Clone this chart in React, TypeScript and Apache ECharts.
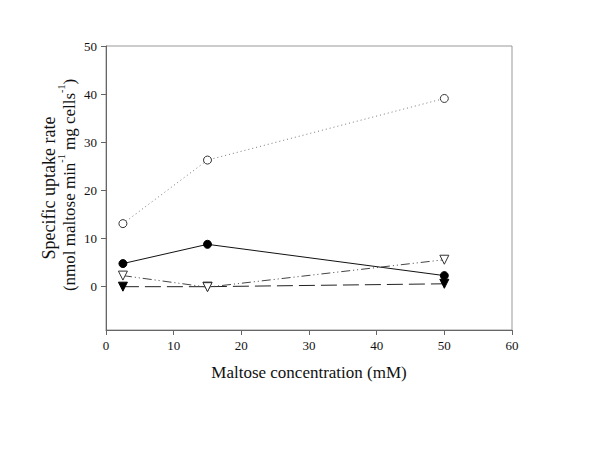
import React, { useEffect, useRef } from "react";
import * as echarts from "echarts";

const xValues = [2.5, 15, 50];
const filledCircles = [4.8, 8.8, 2.3];
const openCircles = [13.1, 26.3, 39.1];
const openTriangles = [2.3, -0.1, 5.6];
const filledTriangles = [0.0, 0.0, 0.6];
const xTicks = [0, 10, 20, 30, 40, 50, 60];
const yTicks = [0, 10, 20, 30, 40, 50];

const font = "'Liberation Serif', 'Times New Roman', serif";

function pairs(ys: number[]) {
  return xValues.map((x, i) => [x, ys[i]]);
}

export default function App() {
  const ref = useRef<HTMLDivElement>(null);
  useEffect(() => {
    if (!ref.current) return;
    const chart = echarts.init(ref.current, null, { renderer: "svg" });
    const axisLine = { show: true, onZero: false, lineStyle: { color: "#666", width: 1 } };
    const tick = { show: true, inside: false, length: 5, lineStyle: { color: "#666" } };
    chart.setOption({
      animation: false,
      backgroundColor: "#fff",
      grid: { left: 106, top: 46, right: 88, bottom: 120, show: true, borderColor: "#999", borderWidth: 1 },
      xAxis: {
        type: "value",
        min: 0,
        max: 60,
        interval: 10,
        axisLine,
        splitLine: { show: false },
        axisLabel: { color: "#111", fontFamily: font, fontSize: 13, margin: 9, customValues: xTicks },
        axisTick: { ...tick, customValues: xTicks },
        name: "Maltose concentration (mM)",
        nameLocation: "middle",
        nameGap: 34,
        nameTextStyle: { color: "#111", fontFamily: font, fontSize: 17 },
      },
      yAxis: {
        type: "value",
        min: -9,
        max: 50,
        axisLine,
        splitLine: { show: false },
        axisLabel: { color: "#111", fontFamily: font, fontSize: 13, margin: 9, customValues: yTicks },
        axisTick: { ...tick, customValues: yTicks },
      },
      graphic: [
        {
          type: "text",
          x: 49,
          y: 188,
          rotation: Math.PI / 2,
          style: {
            text: "Specific uptake rate",
            font: `18px ${font}`,
            fill: "#111",
            align: "center",
            verticalAlign: "middle",
          },
        },
        {
          type: "text",
          x: 67,
          y: 185,
          rotation: Math.PI / 2,
          style: {
            text: "{n|(nmol maltose min}{s|-1}{n| mg cells}{s|-1}{n|)}",
            fill: "#111",
            align: "center",
            verticalAlign: "middle",
            rich: {
              n: { fontFamily: font, fontSize: 17, lineHeight: 21, fill: "#111", verticalAlign: "bottom" },
              s: { fontFamily: font, fontSize: 10, lineHeight: 21, fill: "#111", verticalAlign: "top" },
            },
          },
        },
      ],
      series: [
        {
          type: "line",
          data: pairs(openCircles),
          symbol: "circle",
          symbolSize: 8,
          itemStyle: { color: "#fff", borderColor: "#333", borderWidth: 1 },
          lineStyle: { color: "#777", width: 1, type: [1, 3] },
          z: 3,
        },
        {
          type: "line",
          data: pairs(filledCircles),
          symbol: "circle",
          symbolSize: 8,
          itemStyle: { color: "#000", borderColor: "#000", borderWidth: 1 },
          lineStyle: { color: "#111", width: 1, type: "solid" },
          z: 3,
        },
        {
          type: "line",
          data: pairs(filledTriangles),
          symbol: "triangle",
          symbolRotate: 180,
          symbolSize: 9,
          itemStyle: { color: "#000", borderColor: "#000", borderWidth: 1 },
          lineStyle: { color: "#222", width: 1, type: [16, 6] },
          z: 3,
        },
        {
          type: "line",
          data: pairs(openTriangles),
          symbol: "triangle",
          symbolRotate: 180,
          symbolSize: 9,
          itemStyle: { color: "#fff", borderColor: "#333", borderWidth: 1 },
          lineStyle: { color: "#444", width: 1, type: [9, 3, 1, 3, 1, 3] },
          z: 4,
        },
      ],
    });
    return () => chart.dispose();
  }, []);
  return <div ref={ref} style={{ width: 600, height: 450, margin: -8 }} />;
}
